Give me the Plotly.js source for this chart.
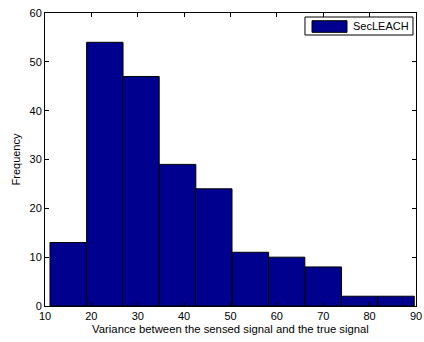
<!DOCTYPE html>
<html>
<head>
<meta charset="utf-8">
<script src="https://cdn.plot.ly/plotly-3.0.1.min.js"></script>
<style>html,body{margin:0;padding:0;background:#fff;}#chart{width:424px;height:342px;}</style>
</head>
<body>
<div id="chart"></div>
<script>
// Histogram bins of the variance between sensed and true signal
const binCenters = [15.0, 22.9, 30.7, 38.6, 46.4, 54.3, 62.1, 70.0, 77.8, 85.7];
const binWidth = 7.85;
const counts = [13, 54, 47, 29, 24, 11, 10, 8, 2, 2];
const seriesName = 'SecLEACH';
const xTicks = [10, 20, 30, 40, 50, 60, 70, 80, 90];
const yTicks = [0, 10, 20, 30, 40, 50, 60];

const fontFamily = 'Liberation Sans, Arial, sans-serif';
const barColor = 'rgb(0,0,143)';

const trace = {
  type: 'bar',
  x: binCenters,
  y: counts,
  width: binCenters.map(() => binWidth),
  name: seriesName,
  showlegend: false,
  marker: {color: barColor, line: {color: '#000', width: 1}}
};

const axisCommon = {
  showline: true, linecolor: '#000', linewidth: 1, mirror: 'ticks',
  ticks: 'inside', ticklen: 4, tickcolor: '#000', tickwidth: 1,
  showgrid: false, zeroline: false,
  tickfont: {family: fontFamily, size: 11, color: '#000'}
};

// MATLAB-style legend box: wide rectangular swatch next to the series name
const legendShapes = [
  {type: 'rect', xref: 'paper', yref: 'paper', x0: 0.7008, x1: 0.9919, y0: 0.9249, y1: 0.9863,
   line: {color: '#000', width: 1}, fillcolor: '#fff'},
  {type: 'rect', xref: 'paper', yref: 'paper', x0: 0.7197, x1: 0.814, y0: 0.934, y1: 0.9737,
   line: {color: '#000', width: 1}, fillcolor: barColor}
];
const legendLabel = {
  xref: 'paper', yref: 'paper', x: 0.8248, y: 0.9556, xanchor: 'left', yanchor: 'middle',
  text: seriesName, showarrow: false, font: {family: fontFamily, size: 11, color: '#000'}
};

const layout = {
  width: 424, height: 342,
  margin: {l: 45, r: 8, t: 13, b: 36},
  paper_bgcolor: '#fff', plot_bgcolor: '#fff',
  font: {family: fontFamily, color: '#000'},
  bargap: 0,
  showlegend: false,
  xaxis: Object.assign({}, axisCommon, {
    range: [10, 90], tickvals: xTicks, ticktext: xTicks.map(String),
    title: {text: 'Variance between the sensed signal and the true signal', font: {size: 11.3, family: fontFamily}, standoff: 3}
  }),
  yaxis: Object.assign({}, axisCommon, {
    range: [0, 60], tickvals: yTicks, ticktext: yTicks.map(String),
    title: {text: 'Frequency', font: {size: 11, family: fontFamily}, standoff: 6}
  }),
  shapes: legendShapes,
  annotations: [legendLabel]
};

Plotly.newPlot('chart', [trace], layout, {staticPlot: true, displayModeBar: false});
</script>
</body>
</html>
